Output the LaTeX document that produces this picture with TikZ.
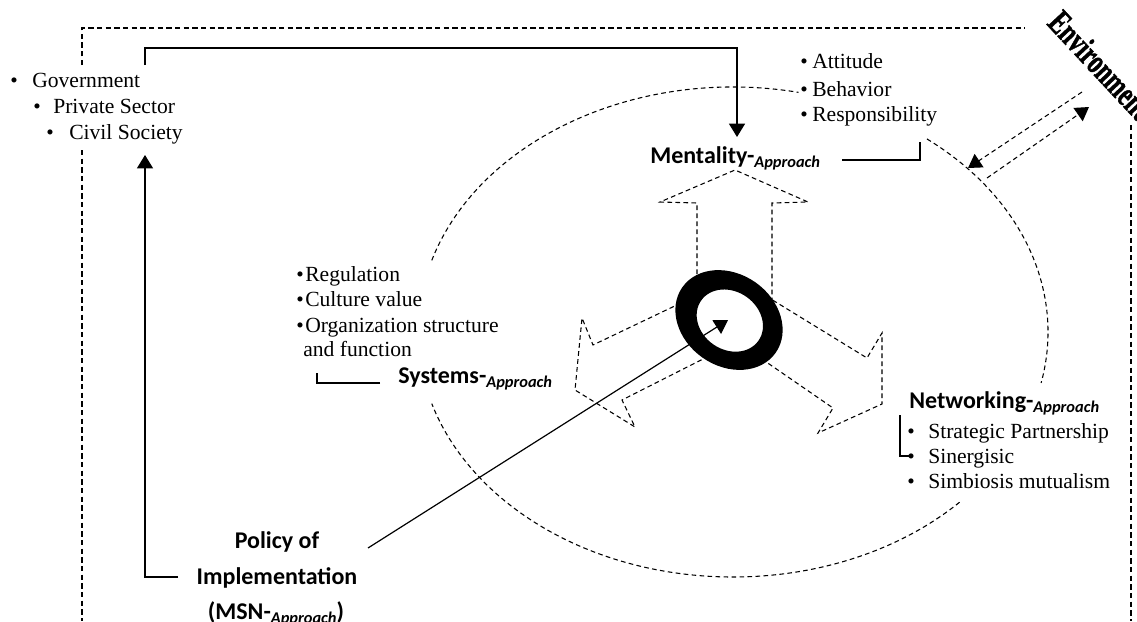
\documentclass[tikz,border=0pt]{standalone}
\usepackage{fontspec}
\setmainfont{Liberation Serif}
\newfontfamily\bsans{Carlito}
\newfontfamily\envfont[FakeBold=1.5]{Liberation Serif Bold}
\usetikzlibrary{arrows.meta}
\newcommand\appr{\raisebox{-3pt}{\fontsize{12.3pt}{13pt}\selectfont\bfseries\itshape Approach}}
\tikzset{
  ser/.style={font=\fontsize{16.2pt}{19pt}\selectfont, inner sep=0pt, anchor=base west},
  bul/.style={font=\fontsize{16pt}{19pt}\selectfont, inner sep=0pt, anchor=base},
  ttl/.style={font=\bsans\bfseries\fontsize{18pt}{22pt}\selectfont, inner sep=0pt, anchor=base west},
  ttlc/.style={ttl, anchor=base},
  envt/.style={font=\envfont\fontsize{26pt}{28pt}\selectfont, inner sep=0pt, anchor=base west, rotate=-47},
  dsh/.style={dash pattern=on 3.5pt off 2.5pt, line width=0.8pt},
  bdr/.style={dash pattern=on 4pt off 2.5pt, line width=0.8pt},
  sol/.style={line width=0.9pt},
  arr/.style={-{Triangle[length=10pt,width=12pt]}},
}
\begin{document}
\begin{tikzpicture}[x=0.75pt,y=-0.75pt]
\useasboundingbox (0,0) rectangle (1137,621);
\clip (0,0) rectangle (1137,621);

% environment border
\draw[bdr] (82,65) -- (82,28) -- (1025,28);
\draw[bdr] (82,150) -- (82,621);
\draw[bdr] (1131,125) -- (1131,621);
\node[envt] (env) at (1046,24) {\scalebox{0.68}[1]{Environment}};

% big dashed ellipse (with gaps behind texts)
\coordinate (C) at (733,332);
\draw[dsh] (C) ++(-52:315 and 245) arc[start angle=-52, end angle=12, x radius=315, y radius=245];
\draw[dsh] (C) ++(-163:315 and 245) arc[start angle=-163, end angle=-78, x radius=315, y radius=245];
\draw[dsh] (C) ++(44:315 and 245) arc[start angle=44, end angle=163, x radius=315, y radius=245];

% block arrows
\draw[dsh] (697,290) -- (697,203) -- (660,202) -- (735,170) -- (808,202) -- (772,203) -- (772,305);
\draw[dsh] (681,303) -- (593,345) -- (582,318) -- (575,390) -- (635,427) -- (622,400) -- (709,356);
\draw[dsh] (766,296) -- (867,358) -- (882,333) -- (882,404) -- (818,433) -- (833,408) -- (759,357);

% ring
\begin{scope}[shift={(729,320)}, rotate=-35]
  \fill[even odd rule] (0,0) ellipse (57 and 46) (1,0) ellipse (35 and 29);
\end{scope}
\coordinate (ringc) at (728,320);

% environment double arrows
\coordinate (e1a) at (1082,92);
\coordinate (e1b) at (968,168);
\coordinate (e2a) at (987,178);
\coordinate (e2b) at (1089,107);
\draw[dsh, arr] (e1a) -- (e1b);
\draw[dsh, arr] (e2a) -- (e2b);

% Government list
\node[bul] (g1b) at (14,87) {\textbullet};
\node[ser] (g1) at (32,87) {Government};
\node[bul] (g2b) at (37,113) {\textbullet};
\node[ser] (g2) at (53,113) {Private Sector};
\node[bul] (g3b) at (50,139) {\textbullet};
\node[ser] (g3) at (69,139) {Civil Society};

% Mentality
\node[ttl] (ment) at (650,163) {Mentality-\appr};
\node[bul] (m1b) at (804,68) {\textbullet};
\node[ser] (m1) at (812,68) {Attitude};
\node[bul] (m2b) at (804,96) {\textbullet};
\node[ser] (m2) at (812,96) {Behavior};
\node[bul] (m3b) at (804,121) {\textbullet};
\node[ser] (m3) at (812,121) {Responsibility};

% Systems
\node[bul] (s1b) at (300,281) {\textbullet};
\node[ser] (s1) at (305,281) {Regulation};
\node[bul] (s2b) at (300,306) {\textbullet};
\node[ser] (s2) at (305,306) {Culture value};
\node[bul] (s3b) at (300,332) {\textbullet};
\node[ser] (s3) at (305,332) {Organization structure};
\node[ser] (s4) at (303,356) {and function};
\node[ttl] (sys) at (398,383) {Systems-\appr};

% Networking
\node[ttl] (net) at (909,408) {Networking-\appr};
\node[bul] (n1b) at (911,438) {\textbullet};
\node[ser] (n1) at (928,438) {Strategic Partnership};
\node[bul] (n2b) at (911,463) {\textbullet};
\node[ser] (n2) at (928,463) {Sinergisic};
\node[bul] (n3b) at (911,488) {\textbullet};
\node[ser] (n3) at (928,488) {Simbiosis mutualism};

% Policy
\node[ttlc] (p1) at (277,548) {Policy of};
\node[ttlc] (p2) at (277,584) {Implementation};
\node[ttlc] (p3) at (276,619) {(MSN-\appr)};

% connectors
\coordinate (govtop) at (145,65);
\coordinate (menttop) at (737,137);
\draw[sol, arr] (govtop) -- (145,48) -| (menttop);
\coordinate (polleft) at (178,577);
\coordinate (civbot) at (145,155);
\draw[sol, arr] (polleft) -| (civbot);
\coordinate (polstart) at (368,548);
\draw[sol, arr] (polstart) -- (ringc);
% brackets
\draw[sol] (842,160) -| (920,142);
\draw[sol] (380,383) -| (317,373);
\draw[sol] (900,415) |- (911,456);
\end{tikzpicture}
\end{document}
